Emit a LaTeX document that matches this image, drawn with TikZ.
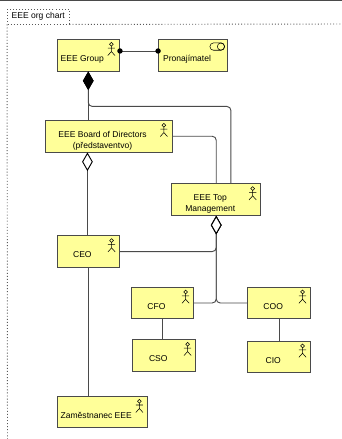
\documentclass[tikz,border=0pt]{standalone}
\usepackage{fontspec}
\setmainfont{Liberation Sans}
\usetikzlibrary{arrows.meta}
\definecolor{unityellow}{HTML}{FFFF99}
\definecolor{linegray}{HTML}{4A4A4A}
\tikzstyle{unit} = [draw=linegray, line width=0.7pt, fill=unityellow, minimum height=23.6pt, inner sep=0pt, text height=9.6pt, text depth=0pt, execute at end node={\hspace{9pt}}]
\tikzstyle{link} = [draw=linegray, line width=0.7pt]
\tikzstyle{bent} = [link, rounded corners=3pt]
\tikzstyle{composed} = [{Diamond[black, length=14pt, width=8pt]}-]
\tikzstyle{aggregated} = [{Diamond[black, open, fill=white, length=14pt, width=8pt]}-]
\tikzstyle{assigned} = [{Circle[black, length=4pt]}-{Circle[black, length=4pt]}, shorten <=-2pt, shorten >=-2pt]
\tikzstyle{frame} = [draw=black!65, line width=0.7pt, dash pattern=on 0.7pt off 1.6pt]
\tikzset{actorfig/.pic={
    \draw [black, line width=0.4pt] (-8.6,5.2) circle (1.9);
    \draw [black, line width=0.4pt] (-8.6,7.1) -- (-8.6,12.5) (-12.2,9) -- (-5,9) (-12.2,16.5) -- (-8.6,12.5) -- (-5,16.5);
}}
\newcommand{\twolines}[2]{\begin{tabular}{@{}c@{}}#1\\#2\end{tabular}}

\begin{document}
\begin{tikzpicture}[x=0.75pt, y=-0.75pt, node distance=30pt, font=\fontsize{6.4pt}{8.25pt}\selectfont]

    \useasboundingbox (0,0) rectangle (342,439);
    \draw [linegray, line width=1pt] (0,0.5) -- (342,0.5);

    % View frame
    \node (chart) [frame, minimum width=46.1pt, minimum height=11.2pt, inner sep=0pt] at (38.25,16.5) {EEE org chart};
    \draw [frame] (chart.south east) -- (342,24);
    \draw [frame] (chart.south west) -- (7.5,439);

    % Top of the chart
    \node (group) [unit, minimum width=46.9pt] at (88.25,55.25) {EEE Group};
    \node (lessor) [unit, minimum width=51.8pt, right of=group, xshift=48.6pt] {Pronajímatel};
    \node (board) [unit, minimum width=95.2pt, below of=group, xshift=15.2pt, yshift=-30.75pt] {\twolines{EEE Board of Directors}{(představentvo)}};
    \node (top) [unit, minimum width=66.8pt, below of=board, xshift=80.8pt, yshift=-17.5pt] {\twolines{EEE Top}{Management}};
    \node (ceo) [unit, minimum width=47pt, below of=board, xshift=-15.1pt, yshift=-56.5pt] {CEO};

    % Officers
    \node (cfo) [unit, minimum width=47pt, below of=ceo, xshift=55.5pt, yshift=-8.55pt] {CFO};
    \node (coo) [unit, minimum width=47.2pt, right of=cfo, xshift=57.6pt] {COO};
    \node (cso) [unit, minimum width=47.2pt, below of=cfo, xshift=1.4pt, yshift=-9.2pt] {CSO};
    \node (cio) [unit, minimum width=47.2pt, below of=coo, yshift=-10.5pt] {CIO};
    \node (employee) [unit, minimum width=67.9pt, below of=ceo, xshift=10.4pt, yshift=-90.45pt] {Zaměstnanec EEE};

    % Actor figures
    \foreach \unitname in {group,board,top,ceo,cfo,coo,cso,cio,employee}
        \pic at (\unitname.north east) {actorfig};

    % Service mark
    \draw [black, line width=0.4pt, rounded corners=2.7pt] ([xshift=-13.6pt, yshift=-2.9pt]lessor.north east) rectangle ([xshift=-2.6pt, yshift=-8.4pt]lessor.north east);
    \draw [black, line width=0.4pt] ([xshift=-5.35pt, yshift=-5.65pt]lessor.north east) circle (3.6);

    % Connections
    \draw [link, assigned] ([yshift=3.2pt]group.east) -- ([yshift=3.2pt]lessor.west);
    \draw [link, composed] (group.south) -- (group.south |- board.north);
    \draw [bent, composed] (group.south) -- ++(0,35) -| ([xshift=11pt]top.north);
    \draw [bent] (board.east) -| (top.north);
    \draw [link, aggregated] ([xshift=-0.7pt]ceo.north |- board.south) -- ([xshift=-0.7pt]ceo.north);
    \draw [link] (ceo.south) -- (ceo.south |- employee.north);
    \draw [bent, aggregated] (top.south) |- (ceo.east);
    \draw [bent, aggregated] (top.south) |- (cfo.east);
    \draw [bent, aggregated] (top.south) |- (coo.west);
    \draw [link] (cfo.south) -- (cfo.south |- cso.north);
    \draw [link] (coo.south) -- (coo.south |- cio.north);

\end{tikzpicture}
\end{document}
